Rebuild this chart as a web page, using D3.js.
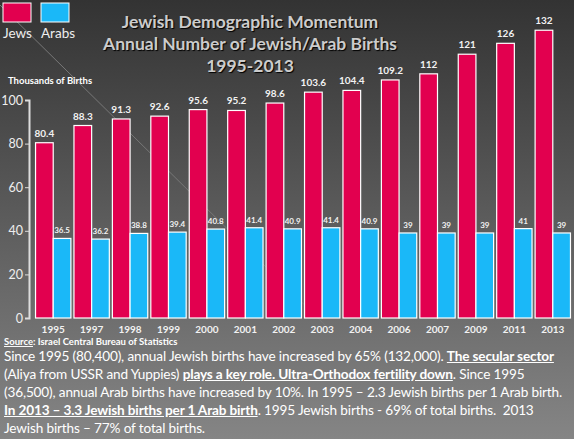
<!DOCTYPE html>
<html><head><meta charset="utf-8">
<script src="https://cdn.jsdelivr.net/npm/d3@7"></script>
<style>
body{margin:0;background:#444;}
#note{position:absolute;left:4px;top:347px;width:572px;color:#fff;font-family:Lato,sans-serif;font-size:13.6px;line-height:18px;letter-spacing:-0.15px;white-space:nowrap}
#note b{text-decoration:underline}
</style></head><body>
<div id="chart"></div>
<div id="note">Since 1995 (80,400), annual Jewish births have increased by 65% (132,000). <b>The secular sector</b><br>(Aliya from USSR and Yuppies) <b>plays a key role. Ultra-Orthodox fertility down</b>. Since 1995<br>(36,500), annual Arab births have increased by 10%. In 1995 – 2.3 Jewish births per 1 Arab birth.<br><b>In 2013 – 3.3 Jewish births per 1 Arab birth</b>. 1995 Jewish births - 69% of total births.&nbsp; 2013<br>Jewish births – 77% of total births.</div>
<script>
const years = ["1995","1997","1998","1999","2000","2001","2002","2003","2004","2006","2007","2009","2011","2013"];
const jews = [80.4, 88.3, 91.3, 92.6, 95.6, 95.2, 98.6, 103.6, 104.4, 109.2, 112, 121, 126, 132];
const arabs = [36.5, 36.2, 38.8, 39.4, 40.8, 41.4, 40.9, 41.4, 40.9, 39, 39, 39, 41, 39];
const yTicks = [0, 20, 40, 60, 80, 100];

const W = 574, H = 439;
const svg = d3.select("#chart").append("svg").attr("width", W).attr("height", H)
    .style("position", "absolute").style("left", 0).style("top", 0);

const grad = svg.append("defs").append("linearGradient").attr("id", "bg")
    .attr("x1", 0).attr("y1", 0).attr("x2", 0).attr("y2", 1);
grad.append("stop").attr("offset", "0%").attr("stop-color", "#333");
grad.append("stop").attr("offset", "100%").attr("stop-color", "#858585");
svg.append("rect").attr("width", W).attr("height", H).attr("fill", "url(#bg)");
svg.append("line").attr("x1", 0).attr("y1", 5).attr("x2", 330).attr("y2", 330)
    .attr("stroke", "#777").attr("stroke-width", 1);

const x = d3.scaleBand().domain(years).range([34, 572]).paddingInner(0.08).paddingOuter(0.04);
const y = d3.scaleLinear().domain([0, 100]).range([318, 100]);
const bw = x.bandwidth() / 2;

// axis
const ax = svg.append("g").attr("transform", "translate(29,0)")
    .call(d3.axisLeft(y).tickValues(yTicks).tickSize(4).tickPadding(2));
ax.select(".domain").attr("stroke", "#ddd").attr("stroke-width", 2);
ax.selectAll("line").attr("stroke", "#ddd");
ax.selectAll("text").attr("fill", "#eee").style("font-family", "Lato, sans-serif").style("font-size", "12.5px");

const cJ = "#e2004f", cA = "#1ab8f8";
const g = svg.append("g");
g.selectAll(".j").data(years).join("rect")
    .attr("x", d => x(d)).attr("y", (d, i) => y(jews[i]))
    .attr("width", bw).attr("height", (d, i) => y(0) - y(jews[i]))
    .attr("fill", cJ).attr("stroke", "#fff").attr("stroke-width", 1.2);
g.selectAll(".a").data(years).join("rect")
    .attr("x", d => x(d) + bw).attr("y", (d, i) => y(arabs[i]))
    .attr("width", bw).attr("height", (d, i) => y(0) - y(arabs[i]))
    .attr("fill", cA).attr("stroke", "#fff").attr("stroke-width", 1.2);

const ff = "Lato, sans-serif", fc = "#f2f2f2";
g.selectAll(".jl").data(years).join("text")
    .attr("x", d => x(d) + bw / 2).attr("y", (d, i) => y(jews[i]) - 6)
    .attr("text-anchor", "middle").attr("font-size", 10)
    .attr("font-family", ff).attr("font-weight", "bold").attr("fill", fc)
    .text((d, i) => jews[i]);
g.selectAll(".al").data(years).join("text")
    .attr("x", d => x(d) + bw * 1.5).attr("y", (d, i) => y(arabs[i]) - 5)
    .attr("text-anchor", "middle").attr("font-size", 8)
    .attr("font-family", ff).attr("font-weight", "bold").attr("fill", fc)
    .text((d, i) => arabs[i]);
g.selectAll(".yl").data(years).join("text")
    .attr("x", d => x(d) + bw).attr("y", 333)
    .attr("text-anchor", "middle").attr("font-size", 10)
    .attr("font-family", ff).attr("font-weight", "bold").attr("fill", fc)
    .text(d => d);

// source
svg.append("text").attr("x", 4).attr("y", 345).attr("font-size", 9.5).attr("fill", "#fff")
    .attr("font-family", ff).attr("font-weight", "bold")
    .html('<tspan text-decoration="underline">Source</tspan>:  Israel Central Bureau of Statistics');

// y title
svg.append("text").attr("x", 8).attr("y", 84).attr("font-size", 9.5).attr("fill", "#fff")
    .attr("font-family", ff).attr("font-weight", "bold").text("Thousands of Births");

// legend
[["Jews", cJ, 3], ["Arabs", cA, 41]].forEach(([t, c, lx]) => {
  svg.append("rect").attr("x", lx).attr("y", 3).attr("width", 28).attr("height", 19)
      .attr("fill", c).attr("stroke", "#fff").attr("stroke-width", 1);
  svg.append("text").attr("x", lx).attr("y", 38).attr("font-size", 13.5).attr("fill", "#eee")
      .attr("font-family", ff).text(t);
});

// title
const title = ["Jewish Demographic Momentum", "Annual Number of Jewish/Arab Births", "1995-2013"];
svg.selectAll(".t").data(title).join("text")
    .attr("x", 250).attr("y", (d, i) => 28 + i * 22)
    .attr("text-anchor", "middle").attr("font-size", 17.5).attr("font-weight", "bold")
    .attr("font-family", ff).attr("fill", "#ccc")
    .style("text-shadow", "1px 1px 1px #000").text(d => d);
</script>
</body></html>
